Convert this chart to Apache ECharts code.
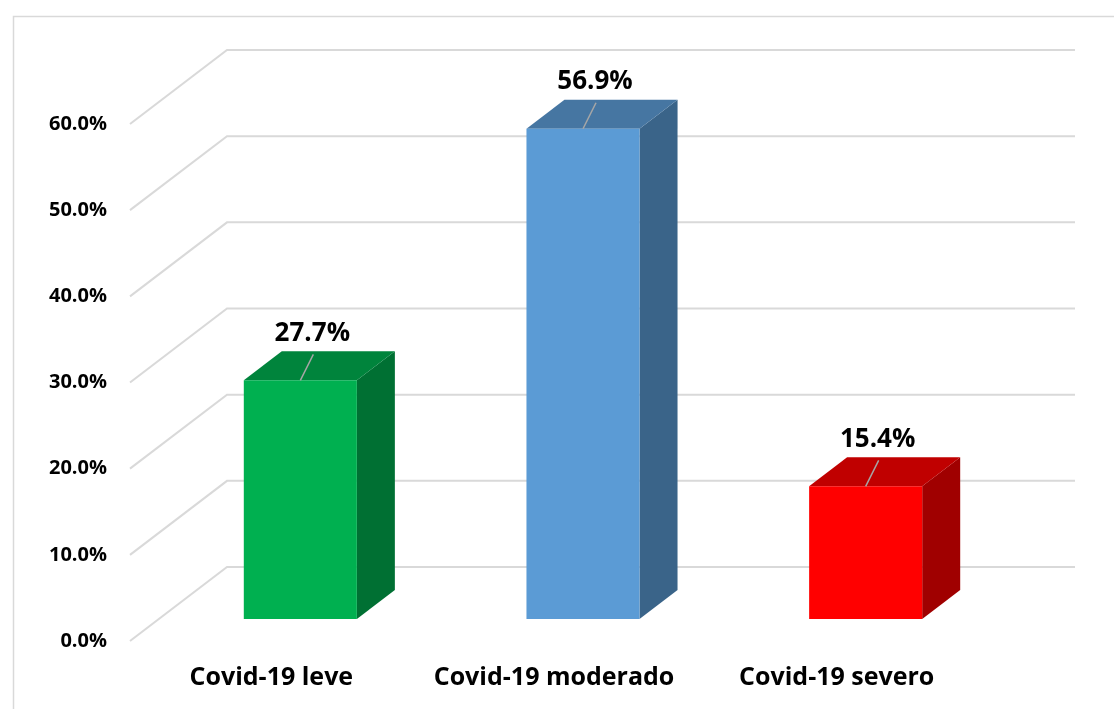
<!DOCTYPE html>
<html lang="es">
<head>
    <meta charset="utf-8"/>
    <title>Covid-19</title>
    <script src="https://cdn.jsdelivr.net/npm/echarts@6/dist/echarts.min.js"></script>
    <style>
        html, body { margin: 0; padding: 0; background: #fff; }
        #main { width: 1114px; height: 709px; }
    </style>
</head>
<body>
<div id="main"></div>
<script>
    // datos
    var categories = ['Covid-19 leve', 'Covid-19 moderado', 'Covid-19 severo'];
    var percents = [27.7, 56.9, 15.4];
    var yTicks = [0, 10, 20, 30, 40, 50, 60];

    // colores: frente, tapa, lado
    var barColors = [
        ['#00B050', '#00843C', '#007033'],
        ['#5B9BD5', '#4676A2', '#3A6489'],
        ['#FF0000', '#C00000', '#A00000']
    ];

    var font = '"Open Sans", "Noto Sans", sans-serif';
    var wallDx = 97, wallDy = 74;   // profundidad de la pared del fondo
    var barOffX = 29, barOffY = 22; // posicion del frente de las barras
    var depthX = 38, depthY = 29;   // profundidad de la barra

    var myChart = echarts.init(document.getElementById('main'));

    function renderWall(params, api) {
        var cs = params.coordSys;
        var y = api.coord([0, api.value(1)])[1];
        return {
            type: 'polyline',
            shape: {
                points: [
                    [cs.x, y],
                    [cs.x + wallDx, y - wallDy],
                    [cs.x + cs.width + wallDx, y - wallDy]
                ]
            },
            style: { stroke: '#d9d9d9', lineWidth: 2, fill: null }
        };
    }

    function renderBar(params, api) {
        var i = api.value(0);
        var v = api.value(1);
        var base = api.coord([i, 0]);
        var top = api.coord([i, v]);
        var bw = api.size([1, 0])[0] * 0.4;
        var cx = base[0] + barOffX;
        var l = cx - bw / 2, r = cx + bw / 2;
        var yb = base[1] - barOffY, yt = top[1] - barOffY;
        var c = barColors[i];
        return {
            type: 'group',
            children: [
                {
                    type: 'polygon',
                    shape: { points: [[r, yt], [r + depthX, yt - depthY], [r + depthX, yb - depthY], [r, yb]] },
                    style: { fill: c[2] }
                },
                {
                    type: 'polygon',
                    shape: { points: [[l, yt], [r, yt], [r + depthX, yt - depthY], [l + depthX, yt - depthY]] },
                    style: { fill: c[1] }
                },
                {
                    type: 'rect',
                    shape: { x: l, y: yt, width: bw, height: yb - yt },
                    style: { fill: c[0] }
                },
                {
                    type: 'line',
                    shape: { x1: cx + 13, y1: yt - 26, x2: cx, y2: yt },
                    style: { stroke: '#a6a6a6', lineWidth: 1.5 }
                },
                {
                    type: 'text',
                    style: {
                        text: v.toFixed(1) + '%',
                        x: cx + 12,
                        y: yt - 47,
                        align: 'center',
                        verticalAlign: 'middle',
                        fontSize: 26,
                        fontWeight: 'bold',
                        fontFamily: font,
                        fill: '#000'
                    }
                }
            ]
        };
    }

    var option = {
        animation: false,
        backgroundColor: '#fff',
        graphic: [{
            type: 'rect',
            left: 11,
            top: 14,
            shape: { width: 1120, height: 720 },
            style: { fill: null, stroke: '#d9d9d9', lineWidth: 1.5 },
            z: -10
        }],
        grid: { left: 130, right: 136, top: 124, bottom: 68 },
        xAxis: {
            type: 'category',
            data: categories,
            axisLine: { show: false },
            axisTick: { show: false },
            axisLabel: {
                interval: 0,
                margin: 24,
                fontSize: 25,
                fontWeight: 'bold',
                fontFamily: font,
                color: '#000'
            }
        },
        yAxis: {
            type: 'value',
            min: 0,
            max: 60,
            interval: 10,
            splitLine: { show: false },
            axisLine: { show: false },
            axisTick: { show: false },
            axisLabel: {
                margin: 23,
                fontSize: 20,
                fontWeight: 'bold',
                fontFamily: font,
                color: '#000',
                formatter: function (v) { return v.toFixed(1) + '%'; }
            }
        },
        series: [
            {
                type: 'custom',
                name: 'pared',
                renderItem: renderWall,
                data: yTicks.map(function (t) { return [0, t]; }),
                silent: true,
                z: 1
            },
            {
                type: 'custom',
                name: 'porcentaje',
                renderItem: renderBar,
                data: percents.map(function (p, i) { return [i, p]; }),
                z: 2
            }
        ]
    };

    myChart.setOption(option);
</script>
</body>
</html>
